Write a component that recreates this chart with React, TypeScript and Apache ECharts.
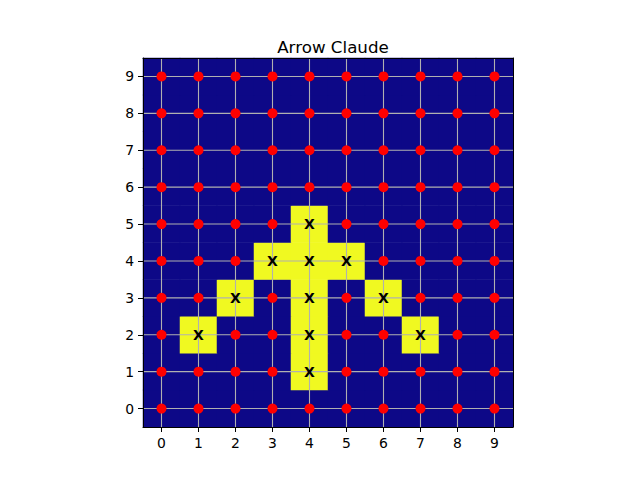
import React, { useEffect, useRef } from "react";
import * as echarts from "echarts";

const xLabels = ["0", "1", "2", "3", "4", "5", "6", "7", "8", "9"];
const yLabels = ["0", "1", "2", "3", "4", "5", "6", "7", "8", "9"];
// cellValues[y][x], y = 0 is the bottom row
const row0 = [0, 0, 0, 0, 0, 0, 0, 0, 0, 0];
const row1 = [0, 0, 0, 0, 1, 0, 0, 0, 0, 0];
const row2 = [0, 1, 0, 0, 1, 0, 0, 1, 0, 0];
const row3 = [0, 0, 1, 0, 1, 0, 1, 0, 0, 0];
const row4 = [0, 0, 0, 1, 1, 1, 0, 0, 0, 0];
const row5 = [0, 0, 0, 0, 1, 0, 0, 0, 0, 0];
const row6 = [0, 0, 0, 0, 0, 0, 0, 0, 0, 0];
const row7 = [0, 0, 0, 0, 0, 0, 0, 0, 0, 0];
const row8 = [0, 0, 0, 0, 0, 0, 0, 0, 0, 0];
const row9 = [0, 0, 0, 0, 0, 0, 0, 0, 0, 0];
const cellValues = [row0, row1, row2, row3, row4, row5, row6, row7, row8, row9];
const titleText = "Arrow Claude";
const markText = "X";

export default function App() {
  const ref = useRef<HTMLDivElement>(null);
  useEffect(() => {
    if (!ref.current) return;
    const chart = echarts.init(ref.current, undefined, { renderer: "svg" });
    const heat: number[][] = [];
    const dots: number[][] = [];
    const marks: number[][] = [];
    cellValues.forEach((row, y) =>
      row.forEach((v, x) => {
        heat.push([x, y, v]);
        if (v === 1) marks.push([x, y]);
        else dots.push([x, y]);
      })
    );
    const lineIdx = xLabels.map((_, i) => [i, i]);
    const font = "DejaVu Sans";
    chart.setOption({
      animation: false,
      textStyle: { fontFamily: font },
      title: {
        text: titleText,
        left: 328,
        textAlign: "center",
        top: 33,
        textStyle: { fontSize: 16.7, fontWeight: "normal", color: "#000", fontFamily: font },
      },
      grid: { left: 143, top: 58, width: 370, height: 369 },
      visualMap: {
        type: "piecewise",
        show: false,
        seriesIndex: 0,
        dimension: 2,
        pieces: [
          { value: 0, color: "#0d0887" },
          { value: 1, color: "#f0f921" },
        ],
      },
      xAxis: [
        {
          type: "category",
          data: xLabels,
          position: "bottom",
          z: 10,
          axisLine: { show: true, lineStyle: { color: "#000", width: 1 } },
          axisTick: { show: true, alignWithLabel: true, length: 5, lineStyle: { color: "#000" } },
          axisLabel: { color: "#000", fontSize: 13.9, margin: 9, fontFamily: font },
          splitLine: { show: false },
        },
        {
          type: "category",
          data: xLabels,
          position: "top",
          z: 10,
          axisLine: { show: true, lineStyle: { color: "#000", width: 1 } },
          axisTick: { show: false },
          axisLabel: { show: false },
          splitLine: { show: false },
        },
      ],
      yAxis: [
        {
          type: "category",
          data: yLabels,
          position: "left",
          z: 10,
          axisLine: { show: true, lineStyle: { color: "#000", width: 1 } },
          axisTick: { show: true, alignWithLabel: true, length: 5, lineStyle: { color: "#000" } },
          axisLabel: { color: "#000", fontSize: 13.9, margin: 9, fontFamily: font },
          splitLine: { show: false },
        },
        {
          type: "category",
          data: yLabels,
          position: "right",
          z: 10,
          axisLine: { show: true, lineStyle: { color: "#000", width: 1 } },
          axisTick: { show: false },
          axisLabel: { show: false },
          splitLine: { show: false },
        },
      ],
      series: [
        {
          type: "heatmap",
          data: heat,
          z: 1,
          itemStyle: { borderWidth: 0.6, borderColor: "inherit" },
          emphasis: { disabled: true },
        },
        {
          type: "custom",
          z: 3,
          data: lineIdx,
          silent: true,
          renderItem: (params: any, api: any) => {
            const i = api.value(0);
            const cs = params.coordSys;
            const px = api.coord([i, 0])[0];
            const py = api.coord([0, i])[1];
            const style = { stroke: "#b0b0b0", lineWidth: 1.1 };
            return {
              type: "group",
              children: [
                { type: "line", shape: { x1: px, y1: cs.y, x2: px, y2: cs.y + cs.height }, style },
                { type: "line", shape: { x1: cs.x, y1: py, x2: cs.x + cs.width, y2: py }, style },
              ],
            };
          },
        },
        {
          type: "scatter",
          z: 5,
          data: dots,
          symbol: "circle",
          symbolSize: 10,
          itemStyle: { color: "#ff0000", opacity: 1 },
          silent: true,
        },
        {
          type: "scatter",
          z: 6,
          data: marks,
          symbolSize: 0,
          silent: true,
          itemStyle: { opacity: 1 },
          label: {
            show: true,
            position: "inside",
            formatter: () => markText,
            color: "#000000",
            opacity: 1,
            fontSize: 14,
            fontWeight: "bold",
            fontFamily: font,
          },
        },
      ],
    });
    return () => chart.dispose();
  }, []);
  return <div ref={ref} style={{ width: 640, height: 480, position: "absolute", left: 0, top: 0 }} />;
}
